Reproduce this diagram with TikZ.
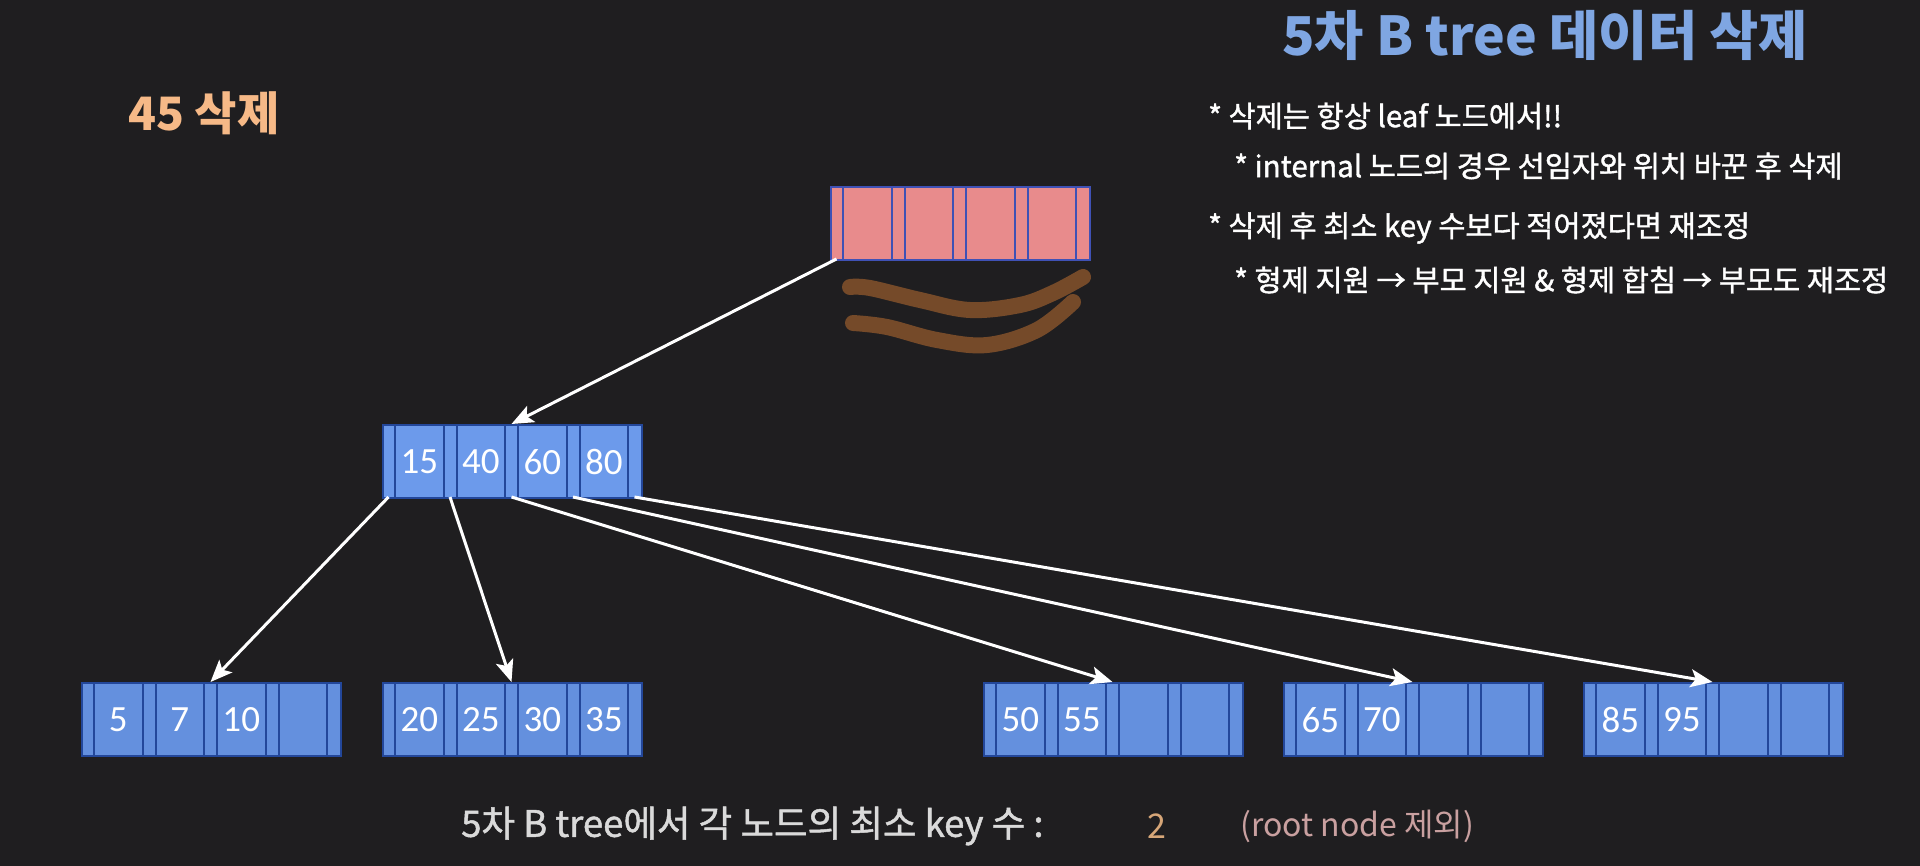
\documentclass[tikz,border=0pt]{standalone}
\usepackage{fontspec}
\setmainfont{Noto Sans CJK KR}
\newfontfamily\medfont{Noto Sans CJK KR}[FakeBold=1.3]
\newfontfamily\numfont{Carlito}
\usetikzlibrary{arrows.meta}
\definecolor{bg}{HTML}{1F1E20}
\definecolor{innerfill}{HTML}{6C9AEB}
\definecolor{leaffill}{HTML}{6490DE}
\definecolor{nodeborder}{HTML}{23479A}
\definecolor{rootfill}{HTML}{E88B8C}
\definecolor{rootborder}{HTML}{3F51B5}
\definecolor{stroke}{HTML}{754A29}
\definecolor{titleblue}{HTML}{7FA6E2}
\definecolor{peach}{HTML}{F6B987}
\definecolor{lightgray}{HTML}{DADADA}
\definecolor{tan}{HTML}{D6A678}
\definecolor{mutedpink}{HTML}{C9A0A0}
\tikzset{
  boxbase/.style={draw=nodeborder, line width=2pt, minimum width=259pt, minimum height=73pt, inner sep=0pt, anchor=north west},
  innerbox/.style={boxbase, fill=innerfill},
  leafbox/.style={boxbase, fill=leaffill},
  rootbox/.style={boxbase, fill=rootfill, draw=rootborder},
  keytext/.style={text=white, font=\numfont\fontsize{37}{40}\selectfont, inner sep=0pt},
  arr/.style={draw=white, line width=3pt, -{Stealth[length=22pt,width=18pt,inset=5pt]}},
  brownstroke/.style={draw=stroke, line width=16pt, line cap=round},
  bullet/.style={text=white, anchor=west, inner sep=0pt, font=\medfont\fontsize{29.5}{33}\selectfont},
}
\newcommand{\btnode}[8]{%
  \node[#4] (#1) at (#2,#3) {};
  \foreach \i in {0,...,4}{%
    \coordinate (#1-t\i) at ({#2+\i*61.5+6.5},#3);
    \coordinate (#1-b\i) at ({#2+\i*61.5+6.5},{#3+73});
  }
  \foreach \i in {0,...,3}{%
    \draw[line width=2pt, draw=nodeborder] ({#2+13+\i*61.5},#3) -- ++(0,73);
    \draw[line width=2pt, draw=nodeborder] ({#2+61.5*(\i+1)},#3) -- ++(0,73);
  }
  \node[keytext] (#1-k1) at ({#2+37.25},{#3+38}) {#5};
  \node[keytext] (#1-k2) at ({#2+98.75},{#3+38}) {#6};
  \node[keytext] (#1-k3) at ({#2+160.25},{#3+38}) {#7};
  \node[keytext] (#1-k4) at ({#2+221.75},{#3+38}) {#8};
}
\begin{document}
\begin{tikzpicture}[x=1pt,y=-1pt]
\fill[bg] (0,0) rectangle (1920,866);
\useasboundingbox (0,0) rectangle (1920,866);

% root node (pink)
\node[rootbox] (root) at (830,186) {};
\foreach \i in {0,...,4}{%
  \coordinate (root-b\i) at ({830+\i*61.5+6.5},259);
}
\foreach \i in {0,...,3}{%
  \draw[line width=2pt, draw=rootborder] ({830+13+\i*61.5},186) -- ++(0,73);
  \draw[line width=2pt, draw=rootborder] ({830+61.5*(\i+1)},186) -- ++(0,73);
}

% brown strokes
\draw[brownstroke] plot[smooth, tension=0.6] coordinates {(850,287) (870,288) (920,300) (970,310) (1020,305) (1053,293) (1083,277)};
\draw[brownstroke] plot[smooth, tension=0.6] coordinates {(853,323) (887,327) (937,340) (987,345) (1037,330) (1073,302)};

% internal node
\btnode{inner}{382}{424}{innerbox}{15}{40}{60}{80}

% leaves
\btnode{leafA}{81}{682}{leafbox}{5}{7}{10}{}
\btnode{leafB}{382}{682}{leafbox}{20}{25}{30}{35}
\btnode{leafC}{983}{682}{leafbox}{50}{55}{}{}
\btnode{leafD}{1283}{682}{leafbox}{65}{70}{}{}
\btnode{leafE}{1583}{682}{leafbox}{85}{95}{}{}

% arrows
\draw[arr] (root-b0) -- (inner-t2);
\draw[arr] (inner-b0) -- (leafA-t2);
\draw[arr] (inner-b1) -- (leafB-t2);
\draw[arr] (inner-b2) -- (leafC-t2);
\draw[arr] (inner-b3) -- (leafD-t2);
\draw[arr] (inner-b4) -- (leafE-t2);

% texts
\node[anchor=west, inner sep=0pt, text=titleblue, font=\bfseries\fontsize{53.5}{58}\selectfont] (title) at (1282,35) {5차 B tree 데이터 삭제};
\node[anchor=west, inner sep=0pt, text=peach, font=\bfseries\fontsize{46}{50}\selectfont] (del) at (128,113) {45 삭제};

\node[bullet] (l1) at (1208,116) {* 삭제는 항상 leaf 노드에서!!};
\node[bullet] (l2) at (1234,166) {* internal 노드의 경우 선임자와 위치 바꾼 후 삭제};
\node[bullet] (l3) at (1208,228) {* 삭제 후 최소 key 수보다 적어졌다면 재조정};
\node[bullet] (l4) at (1234,280) {* 형제 지원 → 부모 지원 \& 형제 합침 → 부모도 재조정};

\node[anchor=west, inner sep=0pt, text=lightgray, font=\medfont\fontsize{36.5}{40}\selectfont] (bottom) at (461,826) {5차 B tree에서 각 노드의 최소 key 수 :};
\node[inner sep=0pt, text=tan, font=\fontsize{34}{38}\selectfont] (two) at (1157,826) {2};
\node[anchor=west, inner sep=0pt, text=mutedpink, font=\fontsize{32}{36}\selectfont] (note) at (1240,826) {(root node 제외)};
\end{tikzpicture}
\end{document}
